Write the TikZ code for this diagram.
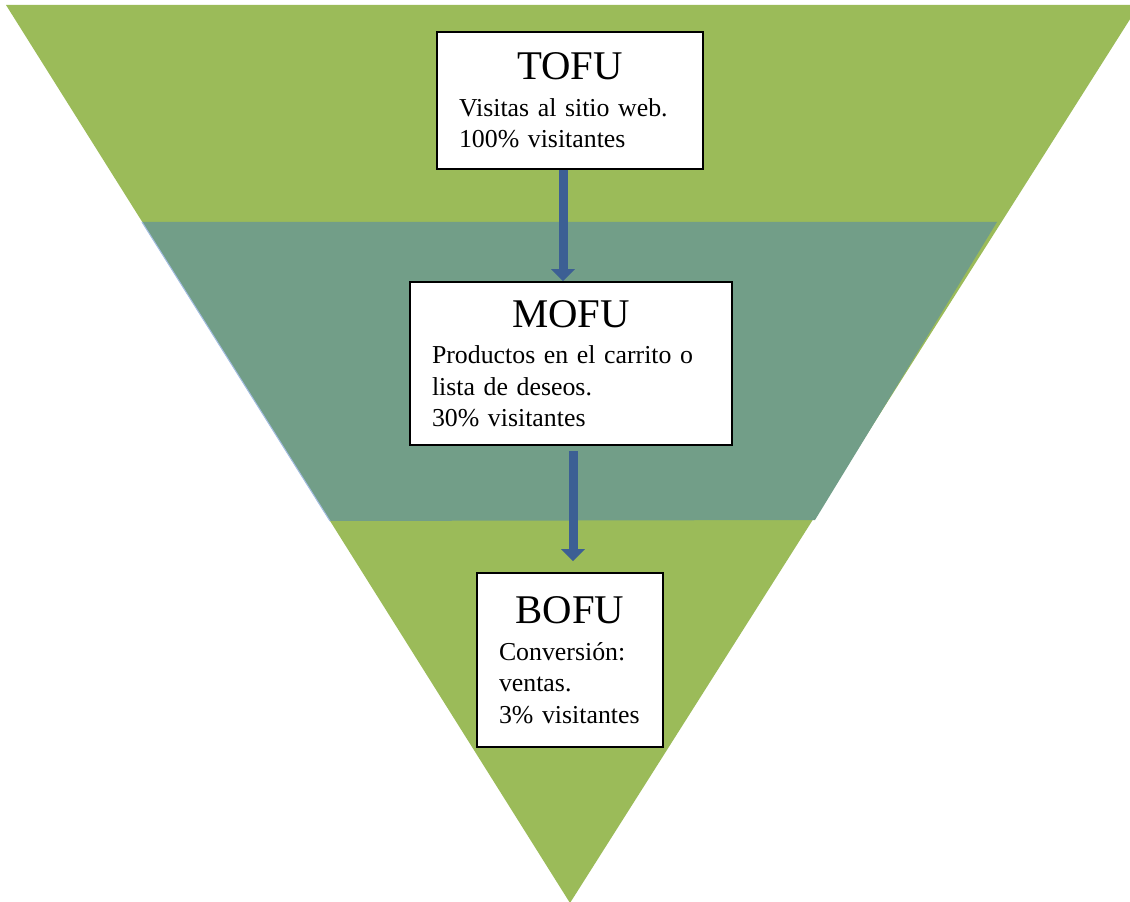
\documentclass[tikz,border=0pt]{standalone}
\usepackage{fontspec}
\setmainfont{Liberation Serif}
\usetikzlibrary{arrows.meta,positioning,calc}
\definecolor{funnelgreen}{HTML}{9BBB59}
\definecolor{funnelteal}{HTML}{729E88}
\definecolor{funneledge}{HTML}{A3BCE0}
\definecolor{arrowblue}{HTML}{3C5F94}
\newcommand{\stagetitle}{\fontsize{23.2}{28}\selectfont}

\begin{document}
\begin{tikzpicture}[x=0.02cm, y=-0.02cm]

\tikzset{stagebox/.style={draw=black,line width=0.9pt,fill=white,inner xsep=0.44cm,inner ysep=0.2cm,align=left,font=\fontsize{14.7}{17.9}\selectfont},
flowarrow/.style={draw=arrowblue,line width=0.18cm,-{Triangle[width=0.46cm,length=0.24cm]}}}

\useasboundingbox (0,0) rectangle (1130,902);
\clip (0,0) rectangle (1130,902);

% Funnel
\fill[funnelgreen] (6,5) -- (1139,5) -- (570,903) -- cycle;
\fill[funnelteal] (142,222) -- (997,222) -- (815,520) -- (330,521) -- cycle;
\draw[funneledge,line width=0.6pt] (142,222) -- (330,521);

% Stage boxes
\node[stagebox,text width=4.44cm,minimum height=2.74cm] (tofu) at (570,100.5) {\makebox[\linewidth]{\stagetitle TOFU}\\[3pt] Visitas al sitio web.\\ 100\%~visitantes};
\node[stagebox,text width=5.56cm,minimum height=3.26cm] (mofu) at (571,363.5) {\makebox[\linewidth]{\stagetitle MOFU}\\[3pt] Productos en el carrito o\\ lista de deseos.\\ 30\%~visitantes};
\node[stagebox,text width=2.84cm,minimum height=3.48cm] (bofu) at (570,660) {\makebox[\linewidth]{\stagetitle BOFU}\\[3pt] Conversión:\\ ventas.\\ 3\%~visitantes};

% Arrows
\draw[flowarrow] ([xshift=-0.14cm]tofu.south) -- ([xshift=-0.14cm]tofu.south |- mofu.north);
\draw[flowarrow,shorten <=0.1cm,shorten >=0.22cm] ([xshift=0.04cm]mofu.south) -- ([xshift=0.04cm]mofu.south |- bofu.north);

\end{tikzpicture}
\end{document}
